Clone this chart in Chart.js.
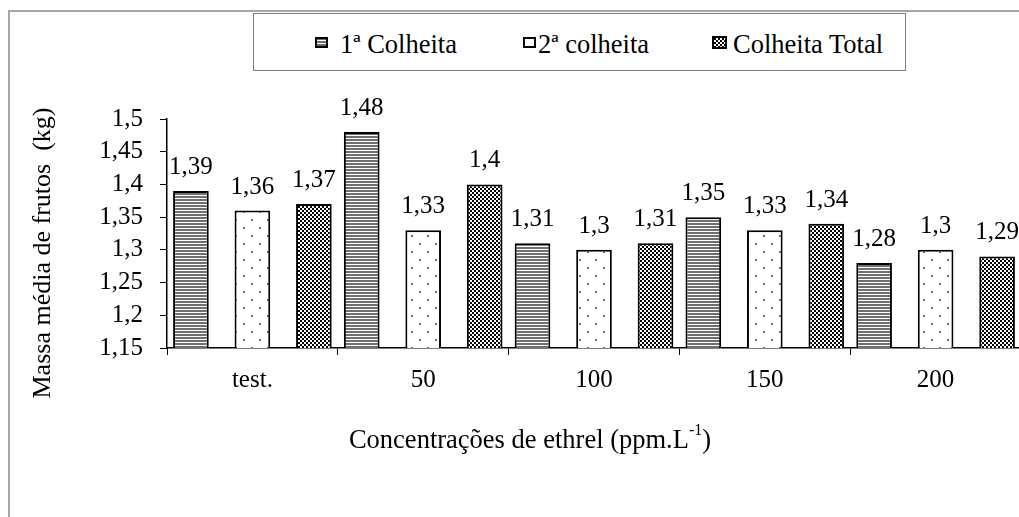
<!DOCTYPE html>
<html>
<head>
<meta charset="utf-8">
<script src="https://cdn.jsdelivr.net/npm/chart.js@4.4.0/dist/chart.umd.min.js"></script>
<style>
  body { margin: 0; width: 1019px; height: 517px; overflow: hidden; background: #fff; position: relative;
         font-family: "Liberation Serif", "DejaVu Serif", serif; color: #000; }
  #frame { position: absolute; left: 8px; top: 10px; width: 1100px; height: 600px;
           border-left: 2px solid #a6a6a6; border-top: 2px solid #a6a6a6; }
  #wrap { position: absolute; left: 0; top: 0; width: 1040px; height: 517px; }
  #legend { position: absolute; left: 253px; top: 13px; width: 651px; height: 56px;
            border: 1px solid #7f7f7f; background: #fff; }
  .item { position: absolute; top: 17px; height: 26px; font-size: 26.5px; line-height: 26px; white-space: nowrap; }
  .item canvas { position: absolute; top: 6px; left: 0; }
  .item span { position: absolute; top: 0; }
  #ytitle { position: absolute; left: -158px; top: 240px; width: 400px; text-align: center;
            font-size: 26px; line-height: 26px; transform: rotate(-90deg); white-space: pre; }
  #xtitle { position: absolute; left: 330px; top: 426px; width: 400px; text-align: center;
            font-size: 26.5px; line-height: 26px; white-space: nowrap; }
  #xtitle sup { font-size: 16px; line-height: 0; position: relative; top: -3px; }
</style>
</head>
<body>
<div id="frame"></div>
<div id="wrap"><canvas id="myChart" width="1040" height="517"></canvas></div>
<div id="legend">
  <div class="item" style="left:61px"><canvas id="sw0" width="13" height="11"></canvas><span style="left:25px">1ª Colheita</span></div>
  <div class="item" style="left:269px"><canvas id="sw1" width="13" height="11"></canvas><span style="left:15px">2ª colheita</span></div>
  <div class="item" style="left:458px"><canvas id="sw2" width="15" height="13" style="top:5px"></canvas><span style="left:21px">Colheita Total</span></div>
</div>
<div id="ytitle">Massa média de frutos  (kg)</div>
<div id="xtitle">Concentrações de ethrel (ppm.L<sup>-1</sup>)</div>

<script>
// ethrel doses and mean fruit mass per harvest
var categories = ['test.', '50', '100', '150', '200'];
var colheita1 = [1.39, 1.48, 1.31, 1.35, 1.28];
var colheita2 = [1.36, 1.33, 1.30, 1.33, 1.30];
var colheitaTotal = [1.37, 1.40, 1.31, 1.34, 1.29];
var yTicks = [1.15, 1.2, 1.25, 1.3, 1.35, 1.4, 1.45, 1.5];

// 1,35 style numbers
function fmt(v) {
  return String(+v.toFixed(2)).replace('.', ',');
}

//fill patterns
function makeTile(w, h, paint) {
  var c = document.createElement('canvas');
  c.width = w; c.height = h;
  var g = c.getContext('2d');
  g.fillStyle = '#fff';
  g.fillRect(0, 0, w, h);
  paint(g);
  return c;
}
var stripeTile = makeTile(1, 3, function(g) {
  g.fillStyle = '#6f6f6f'; g.fillRect(0, 1, 1, 2);
});
var dotTile = makeTile(16, 16, function(g) {
  g.fillStyle = '#6a6a6a';
  g.fillRect(3, 3, 2, 2);
  g.fillRect(11, 11, 2, 2);
});
var checkTile = makeTile(4, 4, function(g) {
  g.fillStyle = '#000';
  g.fillRect(0, 0, 2, 2);
  g.fillRect(2, 2, 2, 2);
});

var ctx = document.getElementById('myChart').getContext('2d');
var patterns = [
  ctx.createPattern(stripeTile, 'repeat'),
  ctx.createPattern(dotTile, 'repeat'),
  ctx.createPattern(checkTile, 'repeat')
];

//legend swatches
['sw0', 'sw1', 'sw2'].forEach(function(id, i) {
  var c = document.getElementById(id);
  var g = c.getContext('2d');
  g.fillStyle = g.createPattern([stripeTile, makeTile(1, 1, function(){}), checkTile][i], 'repeat');
  g.fillRect(0, 0, c.width, c.height);
  g.strokeStyle = '#000';
  g.lineWidth = 2;
  g.strokeRect(1, 1, c.width - 2, c.height - 2);
});

//value above each bar
var valueLabels = {
  id: 'valueLabels',
  afterDatasetsDraw: function(chart) {
    var c = chart.ctx;
    c.save();
    c.font = '25px "Liberation Serif", "DejaVu Serif", serif';
    c.fillStyle = '#000';
    c.textAlign = 'center';
    c.textBaseline = 'alphabetic';
    chart.data.datasets.forEach(function(ds, i) {
      chart.getDatasetMeta(i).data.forEach(function(bar, j) {
        c.fillText(fmt(ds.data[j]), bar.x, bar.y - 17);
      });
    });
    c.restore();
  }
};

Chart.defaults.font.family = '"Liberation Serif", "DejaVu Serif", serif';
Chart.defaults.font.size = 25;
Chart.defaults.color = '#000';

var barStyle = {
  borderColor: '#000',
  borderWidth: 2,
  borderSkipped: false,
  categoryPercentage: 1.08,
  barPercentage: 0.58
};

var myChart = new Chart(ctx, {
  type: 'bar',
  data: {
    labels: categories,
    datasets: [
      Object.assign({ label: '1ª Colheita', data: colheita1, backgroundColor: patterns[0] }, barStyle),
      Object.assign({ label: '2ª colheita', data: colheita2, backgroundColor: patterns[1] }, barStyle),
      Object.assign({ label: 'Colheita Total', data: colheitaTotal, backgroundColor: patterns[2] }, barStyle)
    ]
  },
  options: {
    responsive: false,
    animation: false,
    layout: { padding: { top: 119, right: 19, left: 0, bottom: 0 } },
    plugins: {
      legend: { display: false },
      tooltip: { enabled: false }
    },
    scales: {
      x: {
        grid: { offset: true, drawOnChartArea: false, tickLength: 7, color: '#000', lineWidth: 1 },
        border: { color: '#000', width: 1.5 },
        ticks: { padding: 10, maxRotation: 0 },
        afterFit: function(s) { s.height = 169; }
      },
      y: {
        min: 1.15,
        max: 1.5,
        grid: { drawOnChartArea: false, tickLength: 7, color: '#000', lineWidth: 1 },
        border: { color: '#000', width: 1.5 },
        ticks: { padding: 17, autoSkip: false, callback: function(v) { return fmt(v); } },
        afterBuildTicks: function(s) { s.ticks = yTicks.map(function(v) { return { value: v }; }); },
        afterFit: function(s) { s.width = 167; }
      }
    }
  },
  plugins: [valueLabels]
});
</script>
</body>
</html>
